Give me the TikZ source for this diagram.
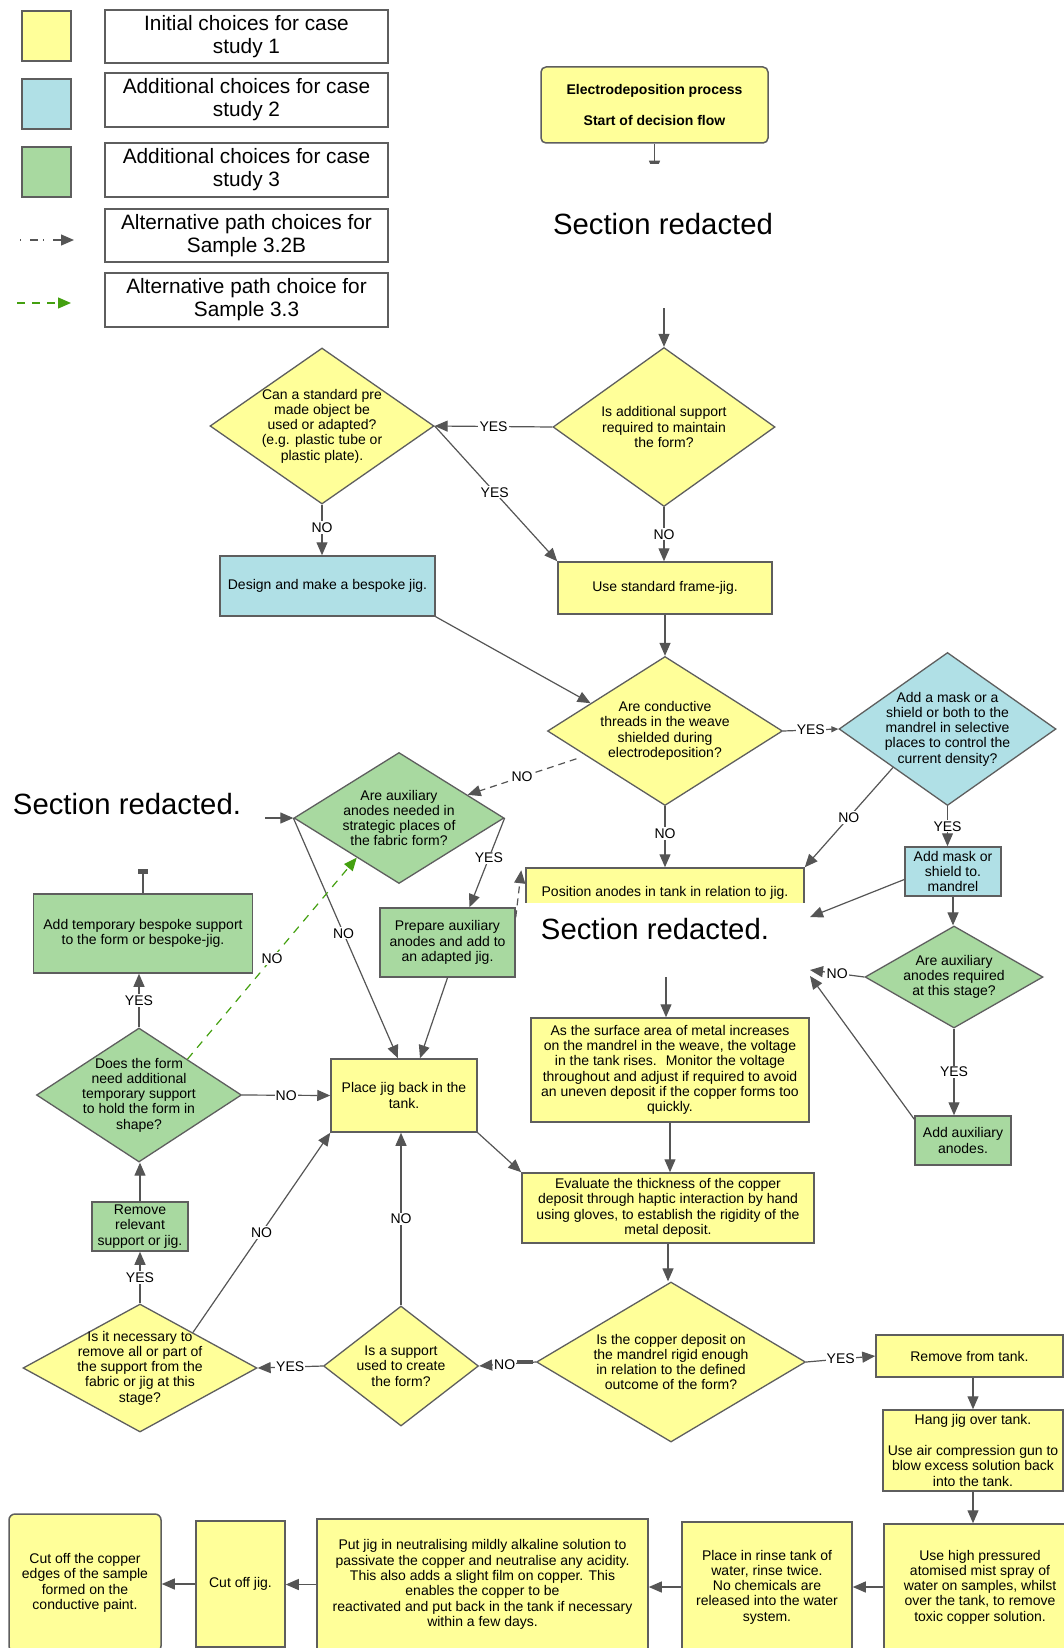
\documentclass[tikz,border=0pt]{standalone}
\usepackage{fontspec}
\setmainfont{Liberation Sans}
\usetikzlibrary{arrows.meta,shapes.geometric,calc}
\definecolor{ylw}{HTML}{FFFF99}
\definecolor{blu}{HTML}{B0E0E6}
\definecolor{grn}{HTML}{A8D9A0}
\definecolor{bordc}{HTML}{5E5E5E}
\definecolor{linec}{HTML}{555555}
\definecolor{dgreen}{HTML}{44A010}
\newcommand\fs{\fontsize{14}{15.3}\selectfont}
\newcommand\fleg{\fontsize{20.8}{23}\selectfont}
\newcommand\fbig{\fontsize{29.3}{33}\selectfont}

\begin{document}
\begin{tikzpicture}[x=1pt,y=-1pt,
  box/.style={draw=bordc, line width=1.5pt, align=center, inner sep=1pt, font=\fs},
  ybox/.style={box, fill=ylw},
  bbox/.style={box, fill=blu},
  gbox/.style={box, fill=grn},
  dia/.style={diamond, draw=bordc, line width=1.3pt, inner sep=0pt},
  dtext/.style={align=center, font=\fs, inner sep=0pt},
  arr/.style={draw=linec, line width=1.2pt, -{Triangle[length=13pt,width=11pt]}},
  smalltip/.style={-{Triangle[length=7pt,width=6pt]}},
  lbl/.style={fill=white, inner sep=1.2pt, font=\fs},
  graydash/.style={arr, dash pattern=on 7pt off 5pt},
  greendash/.style={arr, draw=dgreen, dash pattern=on 8pt off 7pt},
]
\useasboundingbox (0,0) rectangle (1064,1648);
\clip (0,0) rectangle (1064,1648);

% ---------- legend ----------
\node[ybox, minimum width=49pt, minimum height=50pt] (lgY) at (46.5,36) {};
\node[bbox, minimum width=49pt, minimum height=50pt] (lgB) at (46.5,104) {};
\node[gbox, minimum width=49pt, minimum height=50pt] (lgG) at (46.5,172) {};
\node[box, fill=white, font=\fleg, minimum width=283pt, minimum height=53pt] (lg1) at (246.5,36.5) {Initial choices for case\\study 1};
\node[box, fill=white, font=\fleg, minimum width=283pt, minimum height=54pt] (lg2) at (246.5,100) {Additional choices for case\\study 2};
\node[box, fill=white, font=\fleg, minimum width=283pt, minimum height=54pt] (lg3) at (246.5,170) {Additional choices for case\\study 3};
\node[box, fill=white, font=\fleg, minimum width=283pt, minimum height=53pt] (lg4) at (246.5,235.5) {Alternative path choices for\\Sample 3.2B};
\node[box, fill=white, font=\fleg, minimum width=283pt, minimum height=54pt] (lg5) at (246.5,300) {Alternative path choice for\\Sample 3.3};
\coordinate (lgDa) at (20,240);
\coordinate (lgDb) at (74,240);
\coordinate (lgGa) at (17,303);
\coordinate (lgGb) at (71,303);
\draw[graydash, dash pattern=on 1pt off 9pt on 8pt off 5pt] (lgDa) -- (lgDb);
\draw[greendash] (lgGa) -- (lgGb);

% ---------- start ----------
\node[ybox, rounded corners=5pt, minimum width=227pt, minimum height=76pt, font=\fs\bfseries] (start) at (654.5,105) {Electrodeposition process\\[16pt]Start of decision flow};

% ---------- decisions ----------
\node[dia, fill=ylw, minimum width=222pt, minimum height=159pt] (qSupport) at (664,427) {};
\node[dtext] (qSupportT) at (qSupport) {Is additional support\\required to maintain\\the form?};
\node[dia, fill=ylw, minimum width=224pt, minimum height=156pt] (qStandard) at (322,426) {};
\node[dtext] (qStandardT) at (qStandard) {Can a standard pre\\made object be\\used or adapted?\\(e.g. plastic tube or\\plastic plate).};
\node[dia, fill=ylw, minimum width=235pt, minimum height=149pt] (qShield) at (665,731) {};
\node[dtext] (qShieldT) at (qShield) {Are conductive\\threads in the weave\\shielded during\\electrodeposition?};
\node[dia, fill=blu, minimum width=217pt, minimum height=153pt] (qMask) at (947.5,729) {};
\node[dtext] (qMaskT) at (qMask) {Add a mask or a\\shield or both to the\\mandrel in selective\\places to control the\\current density?};
\node[dia, fill=grn, minimum width=210pt, minimum height=131pt] (qAux) at (399,818) {};
\node[dtext] (qAuxT) at (qAux) {Are auxiliary\\anodes needed in\\strategic places of\\the fabric form?};
\node[dia, fill=grn, minimum width=205pt, minimum height=134pt] (qTemp) at (139,1095) {};
\node[dtext] (qTempT) at (qTemp) {Does the form\\need additional\\temporary support\\to hold the form in\\shape?};
\node[dia, fill=ylw, minimum width=234pt, minimum height=128pt] (qRemove) at (140,1368) {};
\node[dtext] (qRemoveT) at (qRemove) {Is it necessary to\\remove all or part of\\the support from the\\fabric or jig at this\\stage?};
\node[dia, fill=ylw, minimum width=155pt, minimum height=120pt] (qUsed) at (401,1366) {};
\node[dtext] (qUsedT) at (qUsed) {Is a support\\used to create\\the form?};
\node[dia, fill=grn, minimum width=178pt, minimum height=102pt] (qAuxStage) at (954,977) {};
\node[dtext] (qAuxStageT) at (qAuxStage) {Are auxiliary\\anodes required\\at this stage?};
\node[dia, fill=ylw, minimum width=269pt, minimum height=160pt] (qRigid) at (671,1362) {};
\node[dtext] (qRigidT) at (qRigid) {Is the copper deposit on\\the mandrel rigid enough\\in relation to the defined\\outcome of the form?};

% ---------- process boxes ----------
\node[bbox, minimum width=215pt, minimum height=60pt] (bespoke) at (327.5,586) {Design and make a bespoke jig.};
\node[ybox, minimum width=214pt, minimum height=52pt] (frame) at (665,588) {Use standard frame-jig.};
\node[bbox, minimum width=96pt, minimum height=49pt] (maskBox) at (953,871.5) {Add mask or\\shield to.\\mandrel};
\node[ybox, minimum width=278pt, minimum height=50pt] (position) at (665,893) {Position anodes in tank in relation to jig.};
\node[gbox, minimum width=135pt, minimum height=69pt] (prepare) at (447.5,942.5) {Prepare auxiliary\\anodes and add to\\an adapted jig.};
\node[gbox, minimum width=219pt, minimum height=79pt] (tempSup) at (143,933.5) {Add temporary bespoke support\\to the form or bespoke-jig.};
\node[ybox, minimum width=146pt, minimum height=73pt] (placeJig) at (404,1095.5) {Place jig back in the\\tank.};
\node[ybox, minimum width=278pt, minimum height=104pt] (surface) at (670,1070) {As the surface area of metal increases\\on the mandrel in the weave, the voltage\\in the tank rises.~ Monitor the voltage\\throughout and adjust if required to avoid\\an uneven deposit if the copper forms too\\quickly.};
\node[ybox, minimum width=292pt, minimum height=70pt] (evaluate) at (668,1208) {Evaluate the thickness of the copper\\deposit through haptic interaction by hand\\using gloves, to establish the rigidity of the\\metal deposit.};
\node[gbox, minimum width=96pt, minimum height=49pt] (addAux) at (963,1140.5) {Add auxiliary\\anodes.};
\node[gbox, minimum width=96pt, minimum height=49pt] (removeRel) at (140,1226.5) {Remove\\relevant\\support or jig.};
\node[ybox, minimum width=187pt, minimum height=42pt] (removeTank) at (969.5,1356) {Remove from tank.};
\node[ybox, minimum width=180pt, minimum height=81pt] (hang) at (973,1450.5) {Hang jig over tank.\\[15.3pt]Use air compression gun to\\blow excess solution back\\into the tank.};
\node[ybox, minimum width=192pt, minimum height=126pt] (spray) at (980,1587) {Use high pressured\\atomised mist spray of\\water on samples, whilst\\over the tank, to remove\\toxic copper solution.};
\node[ybox, minimum width=170pt, minimum height=130pt] (rinse) at (767,1587) {Place in rinse tank of\\water, rinse twice.\\No chemicals are\\released into the water\\system.};
\node[ybox, minimum width=331pt, minimum height=131pt] (neutral) at (482.5,1584.5) {Put jig in neutralising mildly alkaline solution to\\passivate the copper and neutralise any acidity.\\This also adds a slight film on copper. This\\enables the copper to be\\reactivated and put back in the tank if necessary\\within a few days.};
\node[ybox, minimum width=89pt, minimum height=126pt] (cutJig) at (240.5,1584) {Cut off jig.};
\node[ybox, rounded corners=6pt, minimum width=152pt, minimum height=138pt] (cutCopper) at (85,1583) {Cut off the copper\\edges of the sample\\formed on the\\conductive paint.};

% ---------- connectors ----------
\draw[arr] (start.south) -- ++(0,30);
\coordinate (topIn) at (664,308);
\draw[arr] (topIn) -- (qSupport.north);
\draw[arr] (qSupport.west) -- node[lbl] (l1) {YES} (qStandard.east);
\draw[arr] (qStandard.east) -- node[lbl, pos=0.49] (l2) {YES} (frame.north west);
\draw[arr] (qStandard.south) -- node[lbl, pos=0.45] (l3) {NO} (qStandard.south |- bespoke.north);
\draw[arr] (qSupport.south) -- node[lbl] (l4) {NO} (qSupport.south |- frame.north);
\draw[arr] (frame.south) -- (frame.south |- qShield.north);
\draw[arr] (bespoke.south east) -- ($(qShield.west)!0.37!(qShield.north)$);
\draw[arr, smalltip] (qShield.east) -- node[lbl] (l5) {YES} (qMask.west);
\draw[arr] (qMask.south) -- node[lbl] (l6) {YES} (qMask.south |- maskBox.north);
\draw[arr] ($(qMask.west)!0.5!(qMask.south)$) -- node[lbl] (l7) {NO} (position.north east);
\draw[arr] (qShield.south) -- node[lbl, pos=0.45] (l8) {NO} (qShield.south |- position.north);
\draw[graydash] ($(qShield.west)!0.25!(qShield.south)+(0,9)$) -- node[lbl] (l9) {NO} ($(qAux.north)!0.65!(qAux.east)$);
\coordinate (leftIn) at (265,818);
\draw[arr] (leftIn) -- (qAux.west);
\draw[arr] (qAux.east) -- node[lbl, pos=0.45] (l10) {YES} ([xshift=22pt]prepare.north);
\draw[arr] (qAux.west) -- node[lbl, pos=0.48] (l11) {NO} ([xshift=-6pt]placeJig.north);
\draw[arr] (prepare.south) -- ([xshift=16pt]placeJig.north);
\draw[graydash] ([yshift=-10pt]prepare.north east) -- ([xshift=-4pt,yshift=-3pt]position.north west);
\draw[draw=linec, line width=1.2pt] (tempSup.north) -- ++(0,-22);
\fill[linec] (138,869) rectangle (148,874);
\draw[arr] (qTemp.north) -- node[lbl] (l12) {YES} (qTemp.north |- tempSup.south);
\draw[arr] (qTemp.east) -- node[lbl] (l13) {NO} (placeJig.west);
\draw[greendash] ($(qTemp.north)!0.47!(qTemp.east)$) -- node[lbl] (l14) {NO} ($(qAux.west)!0.6!(qAux.south)$);
\draw[arr] (removeRel.north) -- (removeRel.north |- qTemp.south);
\draw[arr] (qRemove.north) -- node[lbl] (l15) {YES} (qRemove.north |- removeRel.south);
\draw[arr] ($(qRemove.north)!0.45!(qRemove.east)$) -- node[lbl] (l16) {NO} (placeJig.south west);
\draw[arr] (qUsed.west) -- node[lbl] (l17) {YES} (qRemove.east);
\draw[arr] (qUsed.north) -- node[lbl] (l18) {NO} (qUsed.north |- placeJig.south);
\draw[arr] (placeJig.south east) -- (evaluate.north west);
\coordinate (posOut) at (666,977);
\draw[arr] (posOut) -- (posOut |- surface.north);
\draw[arr] (surface.south) -- (surface.south |- evaluate.north);
\draw[arr] (evaluate.south) -- (evaluate.south |- qRigid.north);
\draw[arr] (qRigid.east) -- node[lbl] (l19) {YES} (removeTank.west);
\draw[arr] (qRigid.west) -- node[lbl, pos=0.55] (l20) {NO} (qUsed.east);
\draw[draw=linec, line width=4pt] ([xshift=-3pt]qRigid.west) -- ++(-16,0);
\draw[arr] (removeTank.south -| hang.north) -- (hang.north);
\draw[arr] (hang.south) -- (hang.south |- spray.north);
\draw[arr] (spray.west) -- (spray.west -| rinse.east);
\draw[arr] (rinse.west) -- (rinse.west -| neutral.east);
\draw[arr] (neutral.west) -- (neutral.west -| cutJig.east);
\draw[arr] (cutJig.west) -- (cutJig.west -| cutCopper.east);
\coordinate (iNoEnd) at (810,970);
\draw[arr] (qAuxStage.west) -- node[lbl] (l21) {NO} (iNoEnd);
\coordinate (auxEnd) at (810,976);
\draw[arr] ([yshift=-4pt]addAux.north west) -- (auxEnd);
\draw[arr] (qAuxStage.south) -- node[lbl] (l22) {YES} (qAuxStage.south |- addAux.north);
\coordinate (maskEnd) at (810,917);
\draw[arr] ([yshift=-8pt]maskBox.west) -- (maskEnd);
\draw[arr] (maskBox.south) -- (maskBox.south |- qAuxStage.north);

% ---------- redacted sections ----------
\fill[white] (560,164) rectangle (760,300);
\fill[white] (518,903) rectangle (806,976);
\node[font=\fbig, inner sep=0pt] (secTop) at (663,224) {Section redacted};
\node[font=\fbig, inner sep=0pt] (secLeft) at (127,804) {Section redacted.};
\node[font=\fbig, inner sep=0pt] (secMid) at (655,929) {Section redacted.};
\end{tikzpicture}
\end{document}
